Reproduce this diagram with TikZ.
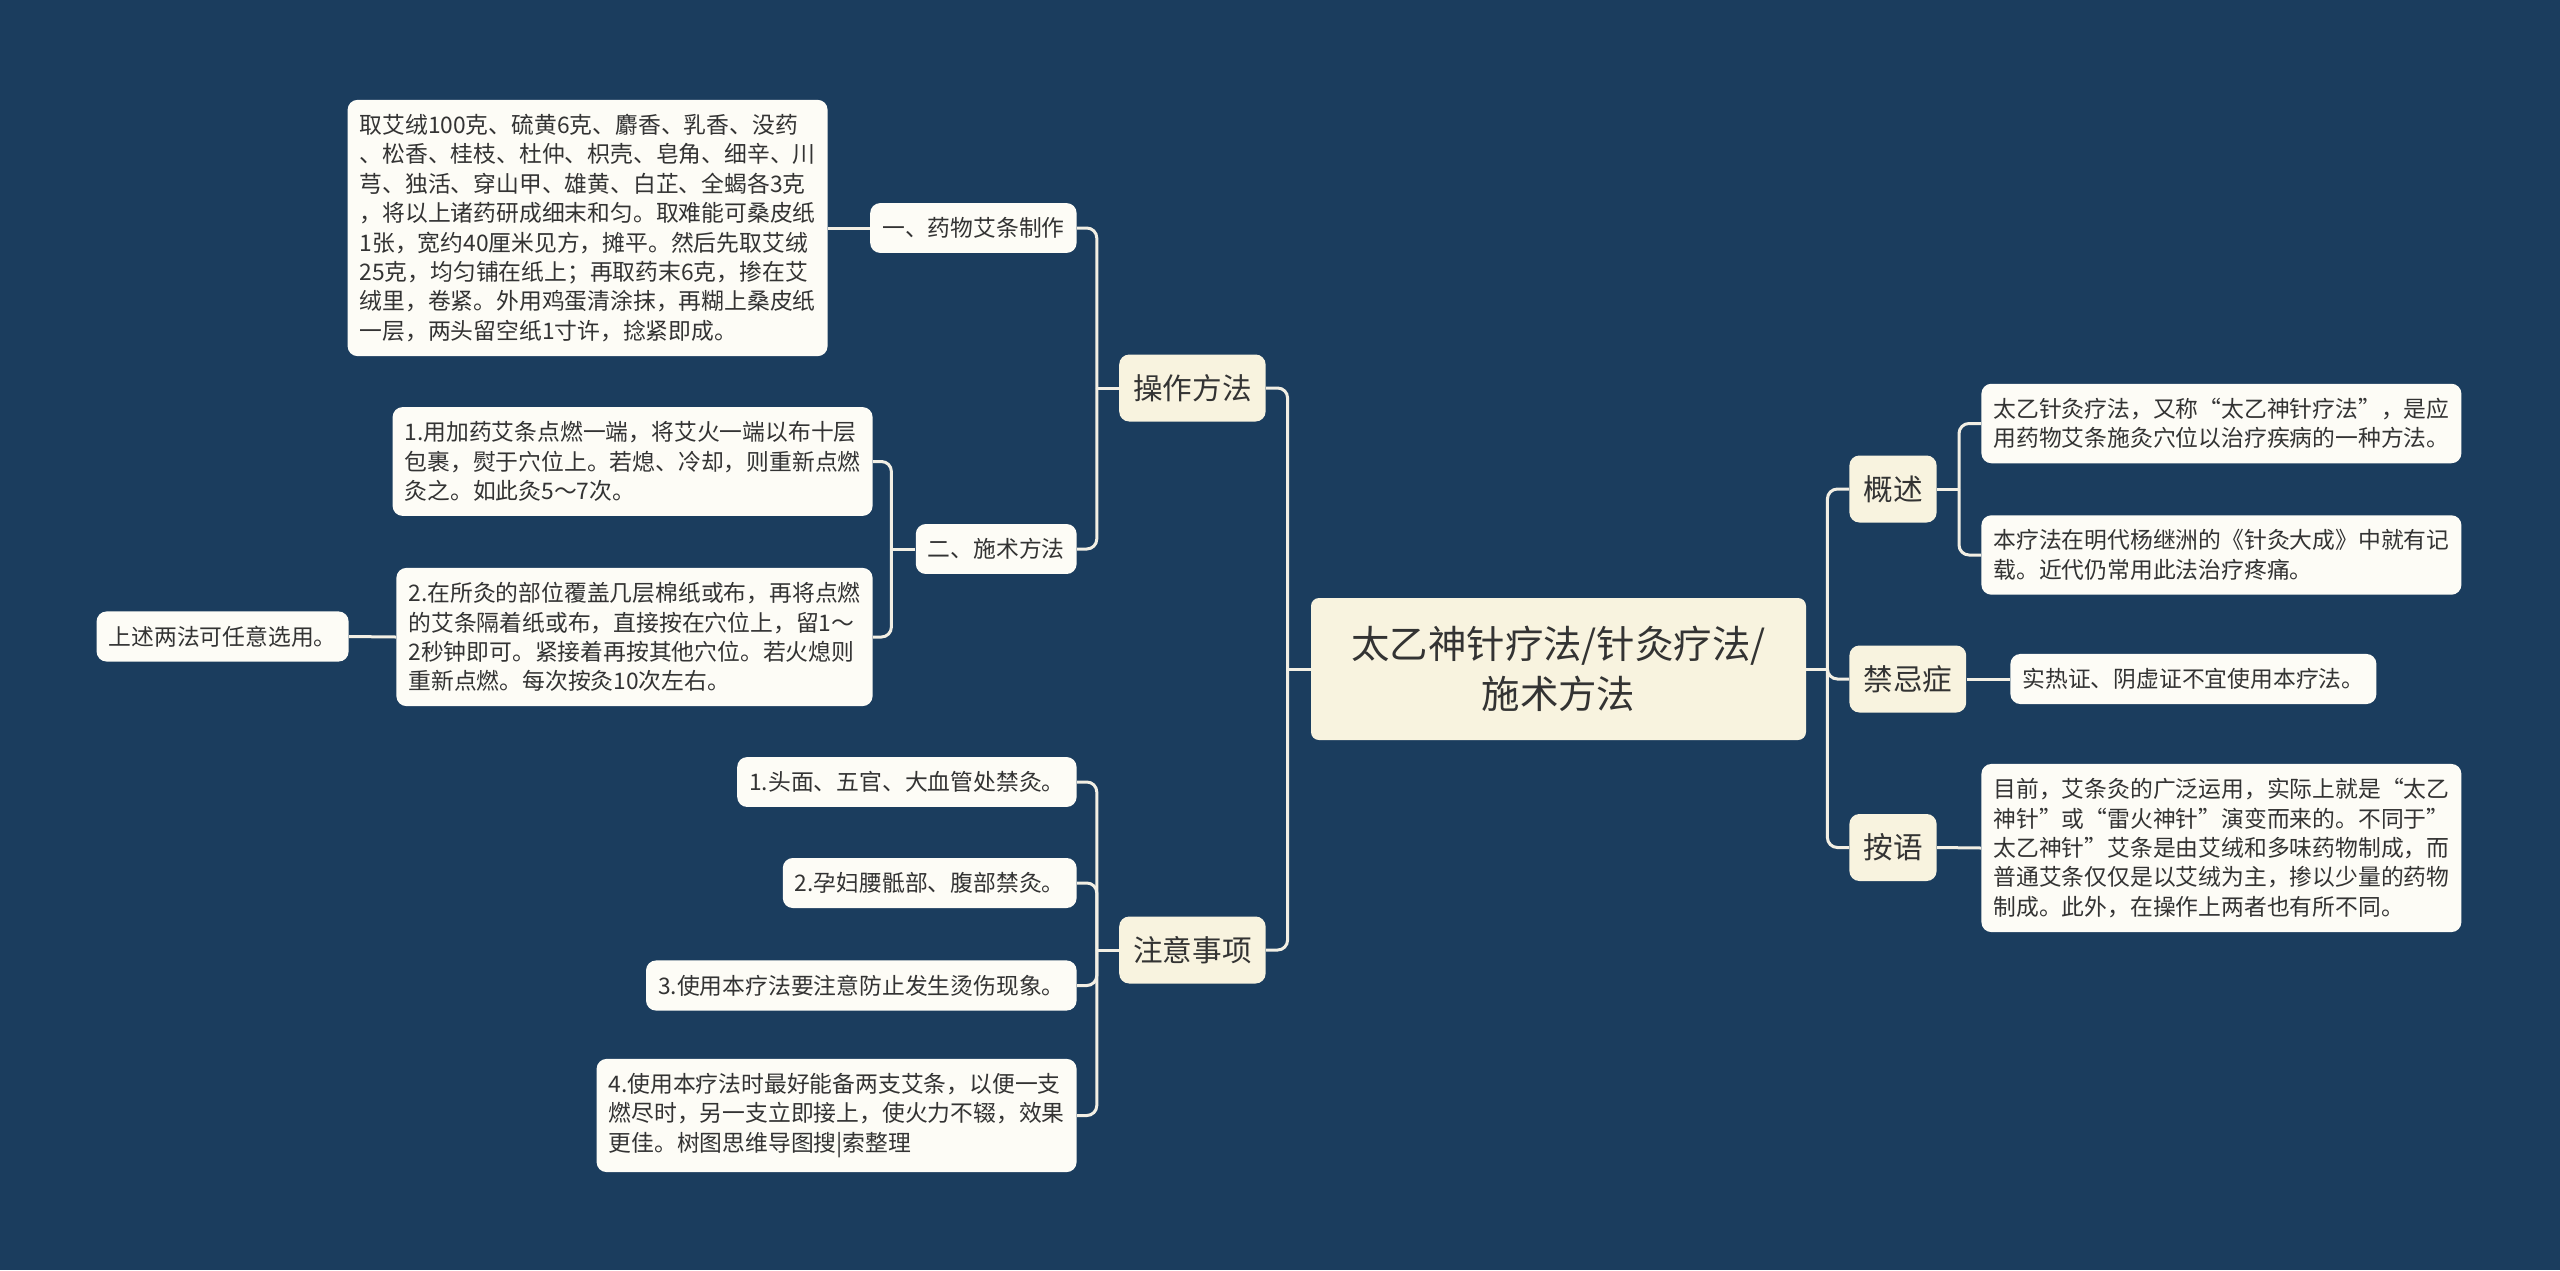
\documentclass[tikz,border=0pt]{standalone}
\usepackage{fontspec}
\setmainfont{Noto Sans CJK SC}
\usetikzlibrary{positioning}
\definecolor{bg}{HTML}{1B3D5E}
\definecolor{cream}{HTML}{F8F3DF}
\definecolor{paper}{HTML}{FDFCF6}
\definecolor{ink}{HTML}{333333}
\definecolor{wire}{HTML}{F2EFE4}
\tikzset{rootbox/.style={fill=cream, rounded corners=4pt, text=ink, align=center, minimum width=247.5pt, minimum height=71pt, font=\fontsize{19.2}{25}\selectfont}}
\tikzset{topic/.style={fill=cream, rounded corners=5pt, text=ink, inner xsep=7pt, minimum height=33.5pt, font=\fontsize{14.8}{18}\selectfont}}
\tikzset{leaf/.style={fill=paper, rounded corners=5pt, text=ink, align=left, inner xsep=6pt, inner ysep=7.2pt, font=\fontsize{11.4}{14.7}\selectfont}}
\tikzset{link/.style={wire, line width=1.5pt}}
\begin{document}
\begin{tikzpicture}[x=0.5pt, y=-0.5pt]
            \fill[bg] (0,0) rectangle (2560,1270);
            \useasboundingbox (0,0) rectangle (2560,1270);
            \node[rootbox] (root) at (1558.5,669) {太乙神针疗法/针灸疗法/\\施术方法};
            \node[topic, anchor=east] (caozuo) at (1266,388) {操作方法};
            \node[topic, anchor=east] (zhuyi) at (1266,950) {注意事项};
            \node[topic, anchor=west] (gaishu) at (1849,489) {概述};
            \node[topic, anchor=west] (jinji) at (1849,679) {禁忌症};
            \node[topic, anchor=west] (anyu) at (1849,847.5) {按语};
            \node[leaf, anchor=east] (zhizuo) at (1077,228) {一、药物艾条制作};
            \node[leaf, anchor=east] (shishu) at (1077,549) {二、施术方法};
            \node[leaf, anchor=east] (peifang) at (828,228) {取艾绒100克、硫黄6克、麝香、乳香、没药\\、松香、桂枝、杜仲、枳壳、皂角、细辛、川\\芎、独活、穿山甲、雄黄、白芷、全蝎各3克\\，将以上诸药研成细末和匀。取难能可桑皮纸\\1张，宽约40厘米见方，摊平。然后先取艾绒\\25克，均匀铺在纸上；再取药末6克，掺在艾\\绒里，卷紧。外用鸡蛋清涂抹，再糊上桑皮纸\\一层，两头留空纸1寸许，捻紧即成。};
            \node[leaf, anchor=east] (fa1) at (873,461.5) {1.用加药艾条点燃一端，将艾火一端以布十层\\包裹，熨于穴位上。若熄、冷却，则重新点燃\\灸之。如此灸5～7次。};
            \node[leaf, anchor=east] (fa2) at (873,637) {2.在所灸的部位覆盖几层棉纸或布，再将点燃\\的艾条隔着纸或布，直接按在穴位上，留1～\\2秒钟即可。紧接着再按其他穴位。若火熄则\\重新点燃。每次按灸10次左右。};
            \node[leaf, anchor=east] (renyi) at (349,636.5) {上述两法可任意选用。};
            \node[leaf, anchor=east] (zy1) at (1077,782) {1.头面、五官、大血管处禁灸。};
            \node[leaf, anchor=east] (zy2) at (1077,883) {2.孕妇腰骶部、腹部禁灸。};
            \node[leaf, anchor=east] (zy3) at (1077,985.5) {3.使用本疗法要注意防止发生烫伤现象。};
            \node[leaf, anchor=east] (zy4) at (1077,1115.5) {4.使用本疗法时最好能备两支艾条，以便一支\\燃尽时，另一支立即接上，使火力不辍，效果\\更佳。树图思维导图搜|索整理};
            \node[leaf, anchor=west] (gs1) at (1981,423.5) {太乙针灸疗法，又称“太乙神针疗法”，是应\\用药物艾条施灸穴位以治疗疾病的一种方法。};
            \node[leaf, anchor=west] (gs2) at (1981,555) {本疗法在明代杨继洲的《针灸大成》中就有记\\载。近代仍常用此法治疗疼痛。};
            \node[leaf, anchor=west] (jj1) at (2010,679) {实热证、阴虚证不宜使用本疗法。};
            \node[leaf, anchor=west] (ay1) at (1981,848) {目前，艾条灸的广泛运用，实际上就是“太乙\\神针”或“雷火神针”演变而来的。不同于”\\太乙神针”艾条是由艾绒和多味药物制成，而\\普通艾条仅仅是以艾绒为主，掺以少量的药物\\制成。此外，在操作上两者也有所不同。};
            \draw[link] (root.west) -- ++(-23,0) coordinate (busL);
            \draw[link, rounded corners=5pt] (busL) |- (caozuo.east);
            \draw[link, rounded corners=5pt] (busL) |- (zhuyi.east);
            \draw[link] (root.east) -- ++(21,0) coordinate (busR);
            \foreach \n in {gaishu, jinji, anyu}
                \draw[link, rounded corners=5pt] (busR) |- (\n.west);
            \draw[link] (caozuo.west) -- ++(-22,0) coordinate (busA);
            \draw[link, rounded corners=5pt] (busA) |- (zhizuo.east);
            \draw[link, rounded corners=5pt] (busA) |- (shishu.east);
            \draw[link] (zhizuo.west) -- (peifang.east);
            \draw[link] (shishu.west) -- ++(-24,0) coordinate (busB);
            \draw[link, rounded corners=5pt] (busB) |- (fa1.east);
            \draw[link, rounded corners=5pt] (busB) |- (fa2.east);
            \draw[link] (fa2.west) -- (renyi.east);
            \draw[link] (zhuyi.west) -- ++(-22,0) coordinate (busZ);
            \foreach \n in {zy1, zy2, zy3, zy4}
                \draw[link, rounded corners=5pt] (busZ) |- (\n.east);
            \draw[link] (gaishu.east) -- ++(22,0) coordinate (busG);
            \draw[link, rounded corners=5pt] (busG) |- (gs1.west);
            \draw[link, rounded corners=5pt] (busG) |- (gs2.west);
            \draw[link] (jinji.east) -- (jj1.west);
            \draw[link] (anyu.east) -- (ay1.west);
        \end{tikzpicture}
\end{document}
